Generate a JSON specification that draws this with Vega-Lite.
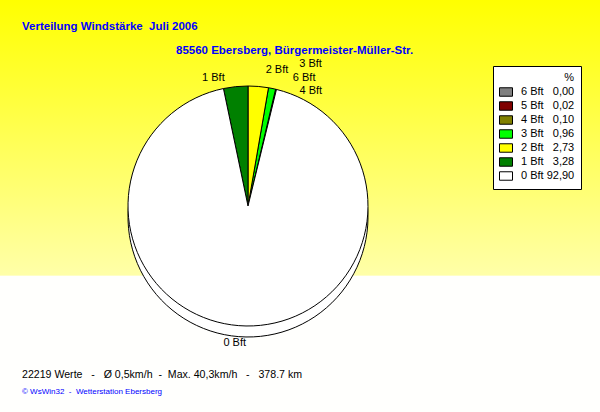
{
  "$schema": "https://vega.github.io/schema/vega-lite/v6.json",
  "width": 600,
  "height": 412,
  "autosize": {"type": "fit", "contains": "padding"},
  "padding": 0,
  "background": "#ffffff",
  "view": {
    "stroke": null,
    "fill": {
      "gradient": "linear", "x1": 0, "y1": 0, "x2": 0, "y2": 1,
      "stops": [
        {"offset": 0, "color": "#ffff00"},
        {"offset": 0.668, "color": "#ffffa8"},
        {"offset": 0.67, "color": "#fffffd"},
        {"offset": 1, "color": "#fffffd"}
      ]
    }
  },
  "config": {"font": "Liberation Sans"},
  "data": {
    "values": [
      {"stufe": "6 Bft", "pct": 0.00, "reihe": 5, "legende": "6 Bft\u00a0\u00a0\u00a00,00"},
      {"stufe": "5 Bft", "pct": 0.02, "reihe": 4, "legende": "5 Bft\u00a0\u00a0\u00a00,02"},
      {"stufe": "4 Bft", "pct": 0.10, "reihe": 3, "legende": "4 Bft\u00a0\u00a0\u00a00,10"},
      {"stufe": "3 Bft", "pct": 0.96, "reihe": 2, "legende": "3 Bft\u00a0\u00a0\u00a00,96"},
      {"stufe": "2 Bft", "pct": 2.73, "reihe": 1, "legende": "2 Bft\u00a0\u00a0\u00a02,73"},
      {"stufe": "1 Bft", "pct": 3.28, "reihe": 7, "legende": "1 Bft\u00a0\u00a0\u00a03,28"},
      {"stufe": "0 Bft", "pct": 92.90, "reihe": 6, "legende": "0 Bft\u00a092,90"}
    ]
  },
  "layer": [
    {
      "mark": {"type": "arc", "outerRadius": 120, "xOffset": -52, "yOffset": 11, "fill": "#ffffff", "stroke": "#000000", "strokeWidth": 1},
      "encoding": {
        "theta": {"field": "pct", "type": "quantitative", "stack": true},
        "order": {"field": "reihe", "type": "quantitative"}
      }
    },
    {
      "mark": {"type": "arc", "outerRadius": 120, "xOffset": -52, "stroke": "#000000", "strokeWidth": 1},
      "encoding": {
        "theta": {"field": "pct", "type": "quantitative", "stack": true},
        "order": {"field": "reihe", "type": "quantitative"},
        "color": {
          "field": "legende",
          "type": "nominal",
          "scale": {
            "domain": ["6 Bft\u00a0\u00a0\u00a00,00", "5 Bft\u00a0\u00a0\u00a00,02", "4 Bft\u00a0\u00a0\u00a00,10", "3 Bft\u00a0\u00a0\u00a00,96", "2 Bft\u00a0\u00a0\u00a02,73", "1 Bft\u00a0\u00a0\u00a03,28", "0 Bft\u00a092,90"],
            "range": ["#808080", "#800000", "#808000", "#00ff00", "#ffff00", "#008000", "#ffffff"]
          },
          "legend": {
            "orient": "none", "legendX": 493, "legendY": 66,
            "title": "%", "titleAnchor": "end", "titleFontSize": 11, "titleFontWeight": "normal", "titleColor": "#000000", "titlePadding": 2,
            "labelFontSize": 11, "labelColor": "#000000", "labelOffset": 8, "labelLimit": 200,
            "symbolType": "M-1,-0.65H1V0.65H-1Z", "symbolSize": 169, "symbolStrokeColor": "#000000", "symbolStrokeWidth": 1, "symbolOpacity": 1,
            "fillColor": "#ffffff", "strokeColor": "#000000", "padding": 6, "rowPadding": 0
          }
        }
      }
    },
    {
      "mark": {"type": "text", "radius": 129, "xOffset": -52, "dx": -10, "align": "right", "baseline": "middle", "fontSize": 11, "color": "#000000"},
      "encoding": {
        "theta": {"field": "pct", "type": "quantitative", "stack": true},
        "order": {"field": "reihe", "type": "quantitative"},
        "detail": {"field": "stufe"},
        "text": {"condition": {"test": "datum.stufe === '1 Bft'", "field": "stufe"}, "value": ""}
      }
    },
    {
      "mark": {"type": "text", "radius": 136, "xOffset": -52, "dx": 6, "align": "left", "baseline": "middle", "fontSize": 11, "color": "#000000"},
      "encoding": {
        "theta": {"field": "pct", "type": "quantitative", "stack": true},
        "order": {"field": "reihe", "type": "quantitative"},
        "detail": {"field": "stufe"},
        "text": {"condition": {"test": "datum.stufe === '2 Bft'", "field": "stufe"}, "value": ""}
      }
    },
    {
      "mark": {"type": "text", "radius": 136, "xOffset": -52, "dx": 24, "dy": -9, "align": "left", "baseline": "middle", "fontSize": 11, "color": "#000000"},
      "encoding": {
        "theta": {"field": "pct", "type": "quantitative", "stack": true},
        "order": {"field": "reihe", "type": "quantitative"},
        "detail": {"field": "stufe"},
        "text": {"condition": {"test": "datum.stufe === '3 Bft'", "field": "stufe"}, "value": ""}
      }
    },
    {
      "mark": {"type": "text", "radius": 130, "xOffset": -52, "dx": 14, "dy": -2, "align": "left", "baseline": "middle", "fontSize": 11, "color": "#000000"},
      "encoding": {
        "theta": {"field": "pct", "type": "quantitative", "stack": true},
        "order": {"field": "reihe", "type": "quantitative"},
        "detail": {"field": "stufe"},
        "text": {"condition": {"test": "datum.stufe === '6 Bft'", "field": "stufe"}, "value": ""}
      }
    },
    {
      "mark": {"type": "text", "radius": 118, "xOffset": -52, "dx": 24, "dy": 0, "align": "left", "baseline": "middle", "fontSize": 11, "color": "#000000"},
      "encoding": {
        "theta": {"field": "pct", "type": "quantitative", "stack": true},
        "order": {"field": "reihe", "type": "quantitative"},
        "detail": {"field": "stufe"},
        "text": {"condition": {"test": "datum.stufe === '4 Bft'", "field": "stufe"}, "value": ""}
      }
    },
    {
      "mark": {"type": "text", "radius": 137, "xOffset": -52, "dx": -11, "align": "center", "baseline": "middle", "fontSize": 11, "color": "#000000"},
      "encoding": {
        "theta": {"field": "pct", "type": "quantitative", "stack": true},
        "order": {"field": "reihe", "type": "quantitative"},
        "detail": {"field": "stufe"},
        "text": {"condition": {"test": "datum.stufe === '0 Bft'", "field": "stufe"}, "value": ""}
      }
    },
    {
      "data": {"values": [{"zeile": "Verteilung Windstärke\u00a0 Juli 2006"}]},
      "mark": {"type": "text", "align": "left", "baseline": "alphabetic", "fontSize": 11.5, "fontWeight": "bold", "color": "#0000ff"},
      "encoding": {"text": {"field": "zeile"}, "x": {"value": 22}, "y": {"value": 30}}
    },
    {
      "data": {"values": [{"zeile": "85560 Ebersberg, Bürgermeister-Müller-Str."}]},
      "mark": {"type": "text", "align": "left", "baseline": "alphabetic", "fontSize": 11.5, "fontWeight": "bold", "color": "#0000ff"},
      "encoding": {"text": {"field": "zeile"}, "x": {"value": 176}, "y": {"value": 54}}
    },
    {
      "data": {"values": [{"zeile": "22219 Werte\u00a0\u00a0 -\u00a0\u00a0 Ø 0,5km/h\u00a0 -\u00a0 Max. 40,3km/h\u00a0\u00a0 -\u00a0\u00a0 378.7 km"}]},
      "mark": {"type": "text", "align": "left", "baseline": "alphabetic", "fontSize": 10.6, "color": "#000000"},
      "encoding": {"text": {"field": "zeile"}, "x": {"value": 22}, "y": {"value": 378}}
    },
    {
      "data": {"values": [{"zeile": "© WsWin32\u00a0 -\u00a0 Wetterstation Ebersberg"}]},
      "mark": {"type": "text", "align": "left", "baseline": "alphabetic", "fontSize": 8, "color": "#0000ff"},
      "encoding": {"text": {"field": "zeile"}, "x": {"value": 22}, "y": {"value": 394}}
    }
  ]
}
